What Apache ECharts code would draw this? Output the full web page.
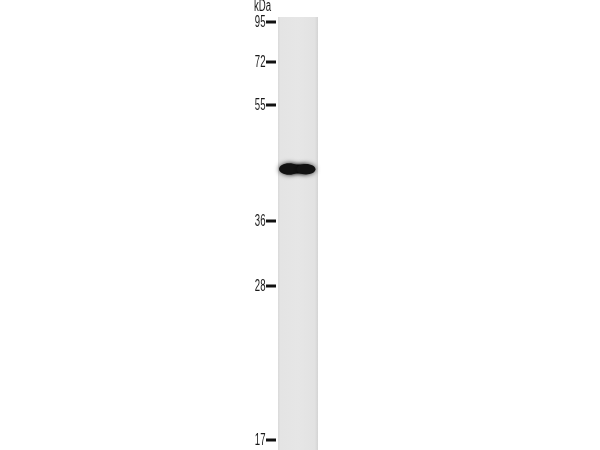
<!DOCTYPE html>
<html>
<head>
<meta charset="utf-8">
<script src="https://cdn.jsdelivr.net/npm/echarts@6/dist/echarts.min.js"></script>
<style>html,body{margin:0;padding:0;background:#fff}#c{width:600px;height:450px}</style>
</head>
<body>
<div id="c"></div>
<script>
// Molecular weight markers (kDa) and their migration position (pixels from top of image)
const markerLabels = ['95', '72', '55', '36', '28', '17'];
const markerPositions = [22, 62, 105, 221, 286, 440];
// Detected band(s): migration position and relative intensity
const bandPositions = [169];
const bandIntensity = [1];
// Lane extent (migration start / end) and horizontal span
const laneStart = [17];
const laneEnd = [450];
const laneSpan = [278, 318];

const chart = echarts.init(document.getElementById('c'));

const markerData = markerLabels.map((l, i) => [markerPositions[i], l]);
const bandData = bandPositions.map((p, i) => [p, bandIntensity[i]]);
const labelFont = '16px "Liberation Sans", Arial, sans-serif';

chart.setOption({
  animation: false,
  backgroundColor: '#ffffff',
  grid: { left: 0, right: 0, top: 0, bottom: 0 },
  xAxis: { type: 'value', min: 0, max: 600, show: false },
  yAxis: { type: 'value', min: 0, max: 450, inverse: true, show: false },
  series: [
    {
      type: 'custom',
      name: 'lane',
      data: [[laneStart[0], laneEnd[0]]],
      renderItem: function (params, api) {
        const p0 = api.coord([laneSpan[0], api.value(0)]);
        const p1 = api.coord([laneSpan[1], api.value(1)]);
        return {
          type: 'rect',
          shape: { x: p0[0], y: p0[1], width: p1[0] - p0[0], height: p1[1] - p0[1] },
          style: {
            fill: new echarts.graphic.LinearGradient(0, 0, 1, 0, [
              { offset: 0, color: '#d9d9d9' },
              { offset: 0.06, color: '#e4e4e4' },
              { offset: 0.5, color: '#e6e6e6' },
              { offset: 0.92, color: '#e2e2e2' },
              { offset: 1, color: '#d4d4d4' }
            ])
          }
        };
      }
    },
    {
      type: 'custom',
      name: 'band',
      data: bandData,
      renderItem: function (params, api) {
        const y = api.value(0);
        const a = api.value(1);
        const c1 = api.coord([289, y]);
        const c2 = api.coord([306, y]);
        const col = 'rgba(18,18,18,' + a + ')';
        const sh = 'rgba(0,0,0,0.75)';
        return {
          type: 'group',
          children: [
            { type: 'rect', shape: { x: c1[0], y: c1[1] - 4.5, width: c2[0] - c1[0], height: 9 },
              style: { fill: col, shadowBlur: 4, shadowColor: sh } },
            { type: 'ellipse', shape: { cx: c1[0], cy: c1[1], rx: 10, ry: 5.8 },
              style: { fill: col, shadowBlur: 5, shadowColor: sh } },
            { type: 'ellipse', shape: { cx: c2[0], cy: c2[1] + 0.3, rx: 9.5, ry: 5.2 },
              style: { fill: col, shadowBlur: 5, shadowColor: sh } }
          ]
        };
      }
    },
    {
      type: 'custom',
      name: 'markers',
      data: markerData,
      renderItem: function (params, api) {
        const y = api.value(0);
        const a = api.coord([266, y]);
        const b = api.coord([276, y]);
        return {
          type: 'group',
          children: [
            { type: 'rect', shape: { x: a[0], y: a[1] - 1.5, width: b[0] - a[0], height: 3 },
              style: { fill: '#111' } },
            { type: 'text', x: a[0] - 0.5, y: a[1] + 0.5, scaleX: 0.6,
              style: { text: markerData[params.dataIndex][1], align: 'right', verticalAlign: 'middle',
                font: labelFont, fill: '#1a1a1a' } }
          ]
        };
      }
    },
    {
      type: 'custom',
      name: 'unit',
      data: [[0]],
      renderItem: function (params, api) {
        const p = api.coord([262.5, 7]);
        return { type: 'text', x: p[0], y: p[1], scaleX: 0.6,
          style: { text: 'kDa', align: 'center', verticalAlign: 'middle',
            font: labelFont, fill: '#1a1a1a' } };
      }
    }
  ]
});
</script>
</body>
</html>
